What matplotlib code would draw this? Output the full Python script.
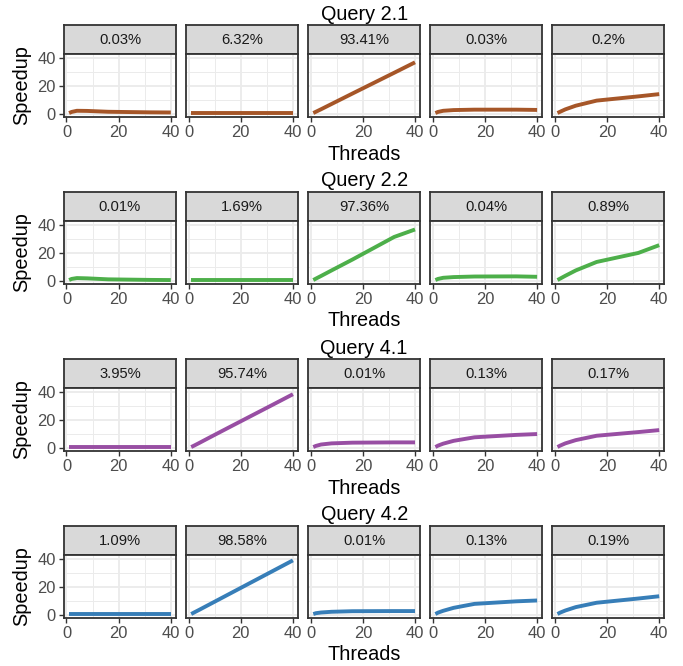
import numpy as np
import matplotlib
matplotlib.use("Agg")
import matplotlib.pyplot as plt

plt.rcParams['font.family'] = ['Liberation Sans', 'DejaVu Sans']

# data
threads = [1, 2, 4, 8, 16, 32, 40]

query_names = ["Query 2.1", "Query 2.2", "Query 4.1", "Query 4.2"]
query_colors = ["#A65628", "#4DAF4A", "#984EA3", "#377EB8"]

shares_21 = ["0.03%", "6.32%", "93.41%", "0.03%", "0.2%"]
shares_22 = ["0.01%", "1.69%", "97.36%", "0.04%", "0.89%"]
shares_41 = ["3.95%", "95.74%", "0.01%", "0.13%", "0.17%"]
shares_42 = ["1.09%", "98.58%", "0.01%", "0.13%", "0.19%"]

speedup_21 = [
    [1.0, 1.8, 2.6, 2.5, 1.9, 1.5, 1.4],
    [1.0, 1.0, 1.0, 1.0, 1.0, 1.0, 1.0],
    [1.0, 1.9, 3.7, 7.4, 14.8, 29.5, 36.9],
    [1.0, 1.8, 2.6, 3.1, 3.4, 3.4, 3.2],
    [1.0, 1.9, 3.6, 6.2, 9.8, 12.8, 14.4],
]
speedup_22 = [
    [1.0, 1.8, 2.4, 2.2, 1.5, 1.1, 1.0],
    [1.0, 1.0, 1.0, 1.0, 1.0, 1.0, 1.0],
    [1.0, 2.0, 3.9, 7.8, 15.5, 31.5, 36.8],
    [1.0, 1.8, 2.6, 3.1, 3.5, 3.6, 3.3],
    [1.0, 2.0, 4.0, 7.8, 13.8, 20.2, 25.7],
]
speedup_41 = [
    [1.0, 1.0, 1.0, 1.0, 1.0, 1.0, 1.0],
    [1.0, 1.9, 3.8, 7.7, 15.4, 30.7, 38.4],
    [1.0, 1.8, 2.8, 3.6, 4.1, 4.3, 4.3],
    [1.0, 2.0, 3.4, 5.4, 7.9, 9.6, 10.2],
    [1.0, 2.0, 3.6, 5.9, 9.0, 11.6, 13.0],
]
speedup_42 = [
    [1.0, 1.0, 1.0, 1.0, 1.0, 1.0, 1.0],
    [1.0, 2.0, 3.9, 7.8, 15.6, 31.2, 39.0],
    [1.0, 1.6, 2.1, 2.6, 3.0, 3.1, 3.1],
    [1.0, 2.0, 3.3, 5.4, 8.2, 10.0, 10.6],
    [1.0, 2.0, 3.5, 5.9, 9.0, 12.0, 13.6],
]

all_shares = [shares_21, shares_22, shares_41, shares_42]
all_speedups = [speedup_21, speedup_22, speedup_41, speedup_42]

W, H = 683, 666
fig = plt.figure(figsize=(W / 100, H / 100), dpi=100)

def px_axes(x0, y0, w, h):
    # pixel box measured from the top-left corner
    return fig.add_axes([x0 / W, 1 - (y0 + h) / H, w / W, h / H])

left0, pw, step = 64, 111.9, 122.1
row_step = 167
dark = "#333333"

for r in range(4):
    top = 25 + r * row_step
    strip_h = 29
    panel_top = top + strip_h
    panel_h = 63
    for c in range(5):
        x0 = left0 + c * step

        # strip
        sax = px_axes(x0, top, pw, strip_h)
        sax.set_facecolor("#D9D9D9")
        sax.set_xticks([])
        sax.set_yticks([])
        for s in sax.spines.values():
            s.set_color(dark)
            s.set_linewidth(1.3)
        sax.text(0.5, 0.48, all_shares[r][c], ha="center", va="center",
                 fontsize=10.6, color="#1A1A1A", transform=sax.transAxes)

        # panel
        ax = px_axes(x0, panel_top, pw, panel_h)
        ax.plot(threads, all_speedups[r][c], color=query_colors[r],
                linewidth=2.8, solid_capstyle="butt", zorder=3)
        ax.set_xlim(-0.95, 41.95)
        ax.set_ylim(-1.8, 42.8)
        ax.set_xticks([0, 20, 40])
        ax.set_xticks([10, 30], minor=True)
        ax.set_yticks([0, 20, 40])
        ax.set_yticks([10, 30], minor=True)
        ax.grid(which="major", color="#EBEBEB", linewidth=1.3, zorder=0)
        ax.grid(which="minor", color="#EBEBEB", linewidth=0.7, zorder=0)
        ax.set_axisbelow(True)
        for s in ax.spines.values():
            s.set_color(dark)
            s.set_linewidth(1.3)
        ax.tick_params(which="major", direction="out", length=3.6, width=1.0,
                       color=dark, labelsize=11.9, labelcolor="#4D4D4D", pad=2.5)
        ax.tick_params(which="minor", length=0)
        if c > 0:
            ax.tick_params(axis="y", which="major", left=False, labelleft=False)

    # row title, axis titles
    center_x = (left0 + (left0 + 4 * step + pw)) / 2
    fig.text(center_x / W, 1 - 19.5 / H - r * row_step / H, query_names[r],
             ha="center", va="baseline", fontsize=14.3)
    fig.text(center_x / W, 1 - (154 + r * row_step) / H, "Threads",
             ha="center", va="center", fontsize=14.3)
    fig.text(22 / W, 1 - (panel_top + panel_h / 2) / H, "Speedup",
             ha="center", va="center", rotation=90, fontsize=14.3)

fig.savefig("out.png", dpi=100)
